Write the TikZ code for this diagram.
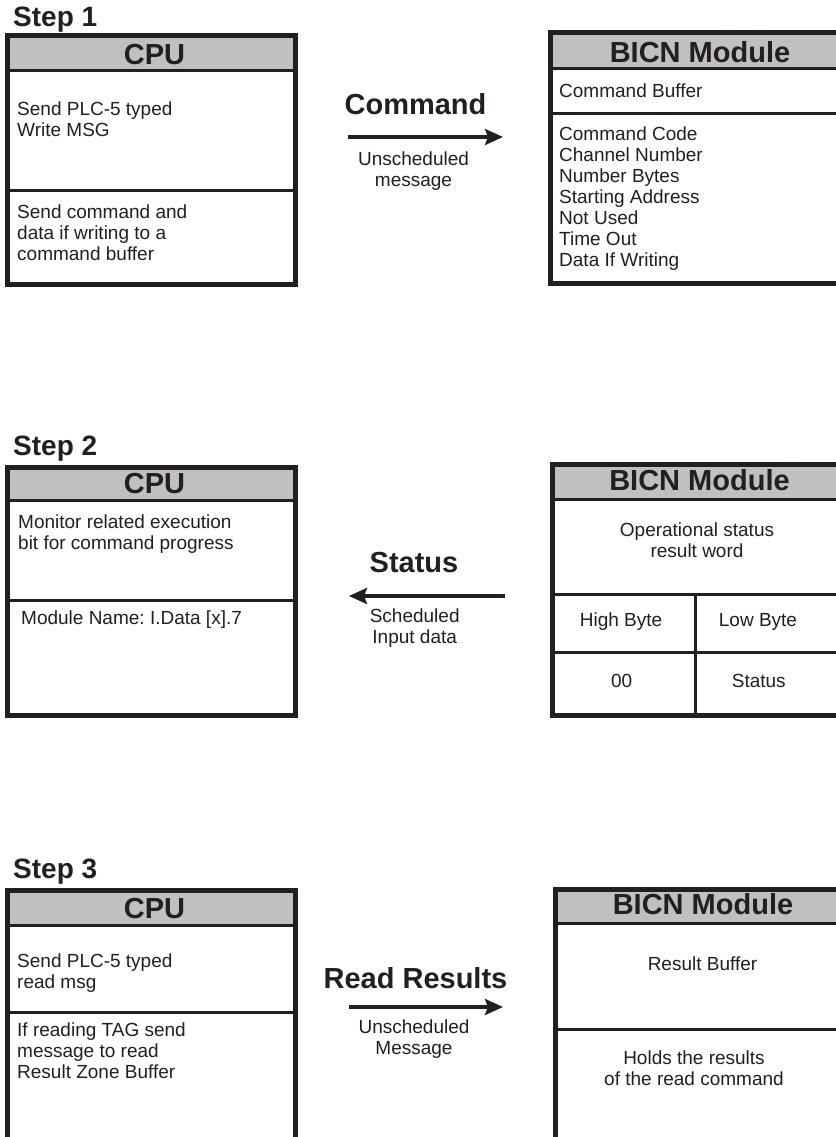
\documentclass[tikz,border=0pt]{standalone}
\usepackage{fontspec}
\setmainfont{Liberation Sans}
\usetikzlibrary{arrows.meta}
\definecolor{hdr}{RGB}{192,192,192}
\definecolor{ink}{RGB}{35,31,32}
\newcommand\fl{\rule{0pt}{15pt}}
\frenchspacing
\begin{document}
\begin{tikzpicture}[x=1pt,y=-1pt,
  outer/.style={draw=ink,line width=5pt},
  inner/.style={draw=ink,line width=3pt},
  body/.style={inner sep=0pt,font=\fontsize{19}{21}\selectfont,text=ink},
  bodyl/.style={body,anchor=north west,align=left},
  bodyc/.style={body,anchor=north,align=center},
  bodyb/.style={body,anchor=base},
  bodybw/.style={body,anchor=base west},
  title/.style={inner sep=0pt,anchor=base,font=\fontsize{29}{32}\selectfont\bfseries,text=ink},
  steplbl/.style={inner sep=0pt,anchor=base west,font=\fontsize{28}{30}\selectfont\bfseries,text=ink},
  flow/.style={draw=ink,line width=3.5pt,-{Stealth[length=18pt,width=16pt,inset=3pt]}},
]
\useasboundingbox (0,0) rectangle (835,1137);
\fill[white] (0,0) rectangle (835,1137);

% ---------- Step 1 ----------
\node[steplbl] (step1) at (13,27) {Step 1};
\fill[hdr] (7.5,35.5) rectangle (295.5,71);
\draw[inner] (7.5,71) -- (295.5,71);
\draw[inner] (7.5,190) -- (295.5,190);
\draw[outer] (7.5,35.5) rectangle (295.5,284.5);
\node[title] (cpu1) at (154.5,65) {CPU};
\node[bodyl] (cpu1a) at (17,100) {\fl Send PLC-5 typed\\Write MSG};
\node[bodyl] (cpu1b) at (17,203) {\fl Send command and\\data if writing to a\\command buffer};

\fill[hdr] (550.5,32.5) rectangle (850,69);
\draw[inner] (550.5,69) -- (850,69);
\draw[inner] (550.5,114) -- (850,114);
\draw[outer] (550.5,32.5) rectangle (850,283.5);
\node[title] (bicn1) at (700,62.7) {BICN Module};
\node[bodybw] (bicn1a) at (559,98) {Command Buffer};
\node[bodyl] (bicn1b) at (559,125.7) {\fl Command Code\\Channel Number\\Number Bytes\\Starting Address\\Not Used\\Time Out\\Data If Writing};

\coordinate (a1s) at (348,137);
\coordinate (a1e) at (503,137);
\draw[flow] (a1s) -- (a1e);
\node[title] (cmd) at (415.5,115) {Command};
\node[bodyc] (cmdsub) at (413.5,150) {\fl Unscheduled\\message};

% ---------- Step 2 ----------
\node[steplbl] (step2) at (13,455) {Step 2};
\fill[hdr] (7.5,467) rectangle (295.5,500);
\draw[inner] (7.5,500) -- (295.5,500);
\draw[inner] (7.5,600) -- (295.5,600);
\draw[outer] (7.5,467) rectangle (295.5,715);
\node[title] (cpu2) at (154.5,493) {CPU};
\node[bodyl] (cpu2a) at (18,513) {\fl Monitor related execution\\bit for command progress};
\node[bodybw] (cpu2b) at (21,624) {Module Name: I.Data [x].7};

\fill[hdr] (552,464.5) rectangle (850,499);
\draw[inner] (552,499) -- (850,499);
\draw[inner] (552,594) -- (850,594);
\draw[inner] (552,652) -- (850,652);
\draw[inner] (695,594) -- (695,715);
\draw[outer] (552,464.5) rectangle (850,715);
\node[title] (bicn2) at (699.5,490) {BICN Module};
\node[bodyc] (bicn2a) at (697,521) {\fl Operational status\\result word};
\node[bodyb] (hib) at (621,626) {High Byte};
\node[bodyb] (lob) at (758,626) {Low Byte};
\node[bodyb] (hiv) at (621.7,687) {00};
\node[bodyb] (lov) at (758.8,687) {Status};

\coordinate (a2s) at (505,596);
\coordinate (a2e) at (349,596);
\draw[flow] (a2s) -- (a2e);
\node[title] (stat) at (414,572) {Status};
\node[bodyc] (statsub) at (414.7,607.7) {\fl Scheduled\\Input data};

% ---------- Step 3 ----------
\node[steplbl] (step3) at (13,878) {Step 3};
\fill[hdr] (7.5,890.5) rectangle (295.5,925);
\draw[inner] (7.5,925) -- (295.5,925);
\draw[inner] (7.5,1012) -- (295.5,1012);
\draw[outer] (7.5,890.5) rectangle (295.5,1139);
\node[title] (cpu3) at (154.5,918) {CPU};
\node[bodyl] (cpu3a) at (17,952) {\fl Send PLC-5 typed\\read msg};
\node[bodyl] (cpu3b) at (17,1021.7) {\fl If reading TAG send\\message to read\\Result Zone Buffer};

\fill[hdr] (555.5,889.5) rectangle (850,923);
\draw[inner] (555.5,923) -- (850,923);
\draw[inner] (555.5,1029) -- (850,1029);
\draw[outer] (555.5,889.5) rectangle (850,1139);
\node[title] (bicn3) at (703,914) {BICN Module};
\node[bodyb] (bicn3a) at (702.5,970) {Result Buffer};
\node[bodyc] (bicn3b) at (694,1049) {\fl Holds the results\\of the read command};

\coordinate (a3s) at (349,1007);
\coordinate (a3e) at (503,1007);
\draw[flow] (a3s) -- (a3e);
\node[title] (rr) at (415.5,988) {Read Results};
\node[bodyc] (rrsub) at (414,1018) {\fl Unscheduled\\Message};
\end{tikzpicture}
\end{document}
